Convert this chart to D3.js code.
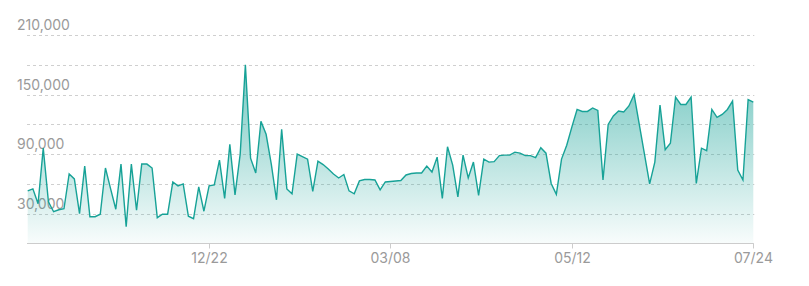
<!DOCTYPE html>
<html>
<head>
<meta charset="utf-8">
<script src="https://cdn.jsdelivr.net/npm/d3@7"></script>
<style>
  html, body { margin: 0; padding: 0; background: #fff; }
  svg { display: block; }
  text { font-family: Inter, "Noto Sans", sans-serif; }
</style>
</head>
<body>
<svg id="chart" width="809" height="286"></svg>
<script>
// ---- data ----
const values = [
  53, 55, 40, 96, 42, 32, 34, 35, 70, 65,
  30, 78, 27, 27, 29.5, 76, 55, 34.5, 80, 17,
  80, 33.5, 80, 80, 76, 26, 29.5, 29.5, 62, 58,
  60, 27.5, 25, 57, 32.5, 58, 59, 84, 45.5, 100,
  49, 90, 180, 86, 71, 123, 110, 80, 44, 115,
  55, 50, 90, 87.5, 85, 52.5, 83, 79.5, 75, 70,
  66, 69.5, 53, 50, 63, 64.5, 64.5, 64, 54, 62,
  62.5, 63, 63.5, 69, 70.5, 71, 71, 78, 72, 87,
  45.5, 97.5, 79, 47, 89, 66, 82, 48.5, 85, 82,
  82.5, 88.5, 89, 89, 92, 91, 88.5, 88.5, 86.5, 96.5,
  91, 60.5, 49.5, 85, 99, 117.5, 135, 133, 133, 136.5,
  134, 64, 120, 128.5, 133.5, 132.5, 138.5, 150, 120, 90,
  60, 82, 139.5, 94.5, 101, 147.5, 140, 140, 147.5, 60.5,
  96, 93.5, 135, 127, 130, 135, 143.5, 74, 64, 145,
  142.5
].map(v => v * 1000);
const tickLabels = ["12/22", "03/08", "05/12", "07/24"];
const tickIndex = [35, 70, 105, 140];
const yGrid = [30000, 60000, 90000, 120000, 150000, 180000, 210000];
const yLabels = [30000, 90000, 150000, 210000];

// ---- layout ----
const svg = d3.select("#chart");
const x0 = 27.7, x1 = 753.3, yTop = 35, yBase = 243.5;

const x = d3.scalePoint()
  .domain(d3.range(values.length))
  .range([x0, x1]);
const y = d3.scaleLinear().domain([0, 210000]).range([yBase, yTop]);

const teal = "#17a297";

// gradient
const defs = svg.append("defs");
const grad = defs.append("linearGradient")
  .attr("id", "areaGrad")
  .attr("gradientUnits", "userSpaceOnUse")
  .attr("x1", 0).attr("x2", 0)
  .attr("y1", y(150000)).attr("y2", yBase);
grad.append("stop").attr("offset", "0%").attr("stop-color", teal).attr("stop-opacity", 0.5);
grad.append("stop").attr("offset", "100%").attr("stop-color", teal).attr("stop-opacity", 0.03);

// grid lines
svg.append("g").selectAll("line").data(yGrid).join("line")
  .attr("x1", x0 - 0.7).attr("x2", x1 + 1)
  .attr("y1", d => Math.round(y(d)) + 0.5).attr("y2", d => Math.round(y(d)) + 0.5)
  .attr("stroke", "#cfcfcf").attr("stroke-width", 1)
  .attr("stroke-dasharray", "3,3");

// y labels
svg.append("g").selectAll("text").data(yLabels).join("text")
  .attr("x", 17).attr("y", d => y(d) - 5)
  .attr("font-size", 14).attr("fill", "#9a9a9a")
  .text(d => d3.format(",")(d));

// area
const area = d3.area()
  .x((d, i) => x(i))
  .y0(yBase)
  .y1(d => y(d));
svg.append("path").datum(values)
  .attr("d", area)
  .attr("fill", "url(#areaGrad)");

// line
const line = d3.line().x((d, i) => x(i)).y(d => y(d));
svg.append("path").datum(values)
  .attr("d", line)
  .attr("fill", "none")
  .attr("stroke", teal)
  .attr("stroke-width", 1.4)
  .attr("stroke-linejoin", "miter");

// x axis
const xa = svg.append("g").attr("transform", `translate(0,${Math.round(yBase) - 0.5})`);
xa.append("line").attr("x1", x0 - 0.7).attr("x2", x1 + 0.5)
  .attr("y1", 0).attr("y2", 0).attr("stroke", "#cccccc");
const ticks = xa.selectAll("g.t").data(tickIndex).join("g")
  .attr("class", "t")
  .attr("transform", d => `translate(${Math.round(x(d)) + 0.5},0)`);
ticks.append("line").attr("y1", 0).attr("y2", 5).attr("stroke", "#cccccc");
ticks.append("text")
  .attr("y", 19).attr("text-anchor", "middle")
  .attr("font-size", 14).attr("fill", "#9a9a9a")
  .text((d, i) => tickLabels[i]);
</script>
</body>
</html>
